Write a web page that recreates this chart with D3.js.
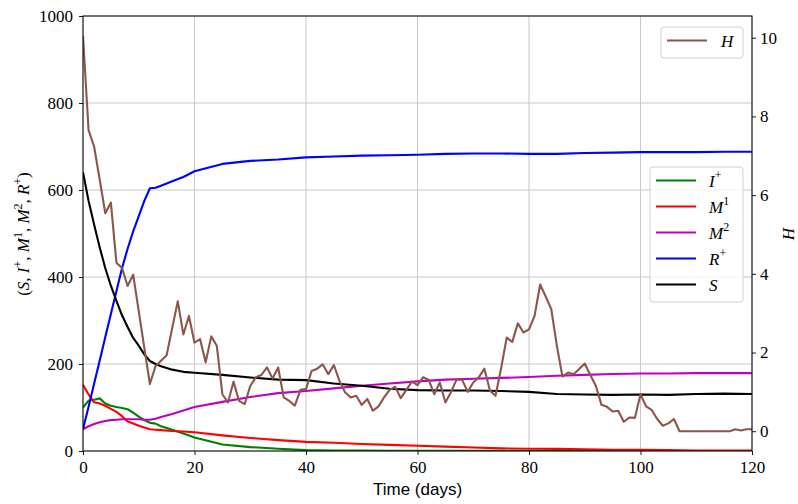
<!DOCTYPE html>
<html>
<head>
<meta charset="utf-8">
<script src="https://cdn.jsdelivr.net/npm/d3@7"></script>
<style>
  html, body { margin: 0; padding: 0; background: #fff; }
  svg { display: block; }
  .serif { font-family: 'Liberation Serif', 'DejaVu Serif', serif; }
</style>
</head>
<body>
<svg id="chart" width="798" height="504"></svg>
<script>
// Sampling days for the compartment curves
const tSmooth = [0,1,2,3,4,5,6,7,8,9,10,11,12,13,14,16,18,20,25,30,35,40,45,50,55,60,65,70,75,80,85,90,95,100,105,110,115,120];

// Compartment sizes (left axis)
const seriesI = [100,116,118,121,109,104,101,99,96,88,79,71,65,63,57,49,40,31,15,9,5,2,1,1,0.5,0.5,0.3,0.2,0.2,0.1,0.1,0.1,0.1,0,0,0,0,0];
const seriesM1 = [152,130,112,109,104,97,90,80,68,63,58,54,50,49,48,46,45,43,36,30,25,21,19,16,14,12,10,8,6,5,5,4,3,3,2,1,1,1];
const seriesM2 = [50,57,62,66,69,71,72,73,73,73,73,72,72,74,78,85,93,101,113,124,133,138,144,150,155,160,164,166,168,170,173,175,177,178,178,179,179,179];
const seriesR = [50,102,155,208,262,315,368,420,465,505,540,575,604,605,610,620,630,643,660,667,670,675,677,679,680,681,683,684,684,683,683,685,686,687,687,687,688,688];
const seriesS = [641,575,520,468,420,380,345,312,285,260,242,222,207,200,195,187,182,180,175,169,164,163,155,150,143,140,139,139,138,136,131,130,129,130,129,131,132,131];

// Daily H values (right axis), day 0 .. 120
const seriesH = [10.05,7.65,7.23,6.39,5.54,5.81,4.28,4.15,3.69,3.98,
  3.05,2.12,1.20,1.65,1.79,1.93,2.62,3.30,2.46,2.93,
  2.25,2.34,1.75,2.41,2.17,0.94,0.73,1.26,0.77,0.69,
  1.15,1.37,1.43,1.62,1.34,1.62,0.86,0.77,0.65,1.05,
  1.07,1.53,1.59,1.70,1.45,1.68,1.28,0.99,0.86,0.90,
  0.67,0.82,0.52,0.63,0.86,1.05,1.13,0.84,1.05,1.26,
  1.17,1.37,1.31,0.94,1.24,0.73,0.99,1.31,1.31,1.00,
  1.24,1.37,1.59,1.03,0.90,1.60,2.38,2.27,2.74,2.51,
  2.59,2.93,3.73,3.42,3.10,2.17,1.39,1.49,1.45,1.58,
  1.72,1.43,1.15,0.67,0.62,0.50,0.52,0.24,0.35,0.34,
  0.94,0.63,0.54,0.31,0.14,0.20,0.31,0,0,0,
  0,0,0,0,0,0,0,0.05,0.02,0.05,
  0.05];

const xTicks = [0,20,40,60,80,100,120];
const yLeftTicks = [0,200,400,600,800,1000];
const yRightTicks = [0,2,4,6,8,10];

const leftSeries = [
  {name: [["I","i"],["+","s"]], values: seriesI, color: "#008000"},
  {name: [["M","i"],["1","s"]], values: seriesM1, color: "#ff0000"},
  {name: [["M","i"],["2","s"]], values: seriesM2, color: "#bf00bf"},
  {name: [["R","i"],["+","s"]], values: seriesR, color: "#0000ff"},
  {name: [["S","i"]], values: seriesS, color: "#000000"}
];

const plot = {left: 83, right: 752, top: 16, bottom: 451};

const svg = d3.select("#chart");

const x = d3.scaleLinear().domain([0, 120]).range([plot.left, plot.right]);
const yL = d3.scaleLinear().domain([0, 1000]).range([plot.bottom, plot.top]);
const hExt = d3.extent(seriesH);
const hPad = (hExt[1] - hExt[0]) * 0.05;
const yR = d3.scaleLinear().domain([hExt[0] - hPad, hExt[1] + hPad]).range([plot.bottom, plot.top]);

// Write math-style text: italic letters, upright superscripts
function mathText(sel, parts, size) {
  let raised = false;
  parts.forEach(([txt, kind]) => {
    const ts = sel.append("tspan").text(txt);
    if (kind === "s") {
      ts.style("font-size", (size * 0.7) + "px").attr("dy", raised ? 0 : -size * 0.42);
      raised = true;
    } else {
      if (raised) { ts.attr("dy", size * 0.42); raised = false; }
      if (kind === "i") ts.style("font-style", "italic");
    }
  });
}

svg.append("defs").append("clipPath").attr("id", "plotclip")
  .append("rect")
  .attr("x", plot.left).attr("y", plot.top)
  .attr("width", plot.right - plot.left).attr("height", plot.bottom - plot.top);

// Grid
const grid = svg.append("g").attr("stroke", "#c8c8c8").attr("stroke-width", 1);
grid.selectAll(".gx").data(xTicks).join("line")
  .attr("x1", d => x(d)).attr("x2", d => x(d))
  .attr("y1", plot.top).attr("y2", plot.bottom);
grid.selectAll(".gy").data(yLeftTicks).join("line")
  .attr("x1", plot.left).attr("x2", plot.right)
  .attr("y1", d => yL(d)).attr("y2", d => yL(d));

// Left-axis curves
const lineL = d3.line().x((d, i) => x(tSmooth[i])).y(d => yL(d));
const gL = svg.append("g").attr("clip-path", "url(#plotclip)");
leftSeries.forEach(s => {
  gL.append("path").datum(s.values)
    .attr("d", lineL)
    .attr("fill", "none")
    .attr("stroke", s.color)
    .attr("stroke-width", 2.1)
    .attr("stroke-linejoin", "round");
});

// Legend for the compartments
const lg2 = svg.append("g");
lg2.append("rect").attr("x", 650).attr("y", 167).attr("width", 93).attr("height", 135)
  .attr("rx", 3).attr("fill", "#fff").attr("fill-opacity", 0.8)
  .attr("stroke", "#d0d0d0").attr("stroke-width", 1);
leftSeries.forEach((s, i) => {
  const yy = 180.5 + i * 26;
  lg2.append("line").attr("x1", 656).attr("x2", 696).attr("y1", yy).attr("y2", yy)
    .attr("stroke", s.color).attr("stroke-width", 2.1);
  const t = lg2.append("text").attr("class", "serif").attr("x", 709).attr("y", yy + 6)
    .style("font-size", "17px");
  mathText(t, s.name, 17);
});

// H curve on the secondary axis
const lineH = d3.line().x((d, i) => x(i)).y(d => yR(d));
svg.append("g").attr("clip-path", "url(#plotclip)")
  .append("path").datum(seriesH)
  .attr("d", lineH)
  .attr("fill", "none")
  .attr("stroke", "#8c564b")
  .attr("stroke-width", 2.1)
  .attr("stroke-linejoin", "round");

// Legend for H
const lg1 = svg.append("g");
lg1.append("rect").attr("x", 661).attr("y", 27).attr("width", 82).attr("height", 31)
  .attr("rx", 3).attr("fill", "#fff").attr("fill-opacity", 0.8)
  .attr("stroke", "#d0d0d0").attr("stroke-width", 1);
lg1.append("line").attr("x1", 667).attr("x2", 707).attr("y1", 40.5).attr("y2", 40.5)
  .attr("stroke", "#8c564b").attr("stroke-width", 2.1);
mathText(lg1.append("text").attr("class", "serif").attr("x", 721).attr("y", 46.5)
  .style("font-size", "17px"), [["H","i"]], 17);

// Axes
function styleAxis(g) {
  g.attr("font-family", null).attr("font-size", null);
  g.select(".domain").remove();
  g.selectAll(".tick line").attr("stroke", "#000").attr("stroke-width", 0.9);
  g.selectAll(".tick text").attr("class", "serif").style("font-size", "17px").attr("fill", "#000");
}
svg.append("g").attr("transform", `translate(0,${plot.bottom})`)
  .call(d3.axisBottom(x).tickValues(xTicks).tickSize(4).tickPadding(6).tickFormat(d3.format("d")))
  .call(styleAxis);
svg.append("g").attr("transform", `translate(${plot.left},0)`)
  .call(d3.axisLeft(yL).tickValues(yLeftTicks).tickSize(4).tickPadding(6).tickFormat(d3.format("d")))
  .call(styleAxis);
svg.append("g").attr("transform", `translate(${plot.right},0)`)
  .call(d3.axisRight(yR).tickValues(yRightTicks).tickSize(4).tickPadding(4).tickFormat(d3.format("d")))
  .call(styleAxis);

// Frame
svg.append("rect").attr("x", plot.left).attr("y", plot.top)
  .attr("width", plot.right - plot.left).attr("height", plot.bottom - plot.top)
  .attr("fill", "none").attr("stroke", "#000").attr("stroke-width", 1);

// Axis titles
svg.append("text").attr("x", (plot.left + plot.right) / 2).attr("y", 495)
  .attr("text-anchor", "middle")
  .style("font-family", "'Liberation Sans', Arial, sans-serif").style("font-size", "17px")
  .text("Time (days)");

const yl = svg.append("text").attr("class", "serif").attr("transform", "translate(29,234) rotate(-90)")
  .attr("text-anchor", "middle").style("font-size", "17px");
mathText(yl, [["(","n"],["S","i"],[", ","n"],["I","i"],["+","s"],[", ","n"],["M","i"],["1","s"],
  [", ","n"],["M","i"],["2","s"],[", ","n"],["R","i"],["+","s"],[")","n"]], 17);

const yr = svg.append("text").attr("class", "serif").attr("transform", "translate(794,234) rotate(-90)")
  .attr("text-anchor", "middle").style("font-size", "17px");
mathText(yr, [["H","i"]], 17);
</script>
</body>
</html>
